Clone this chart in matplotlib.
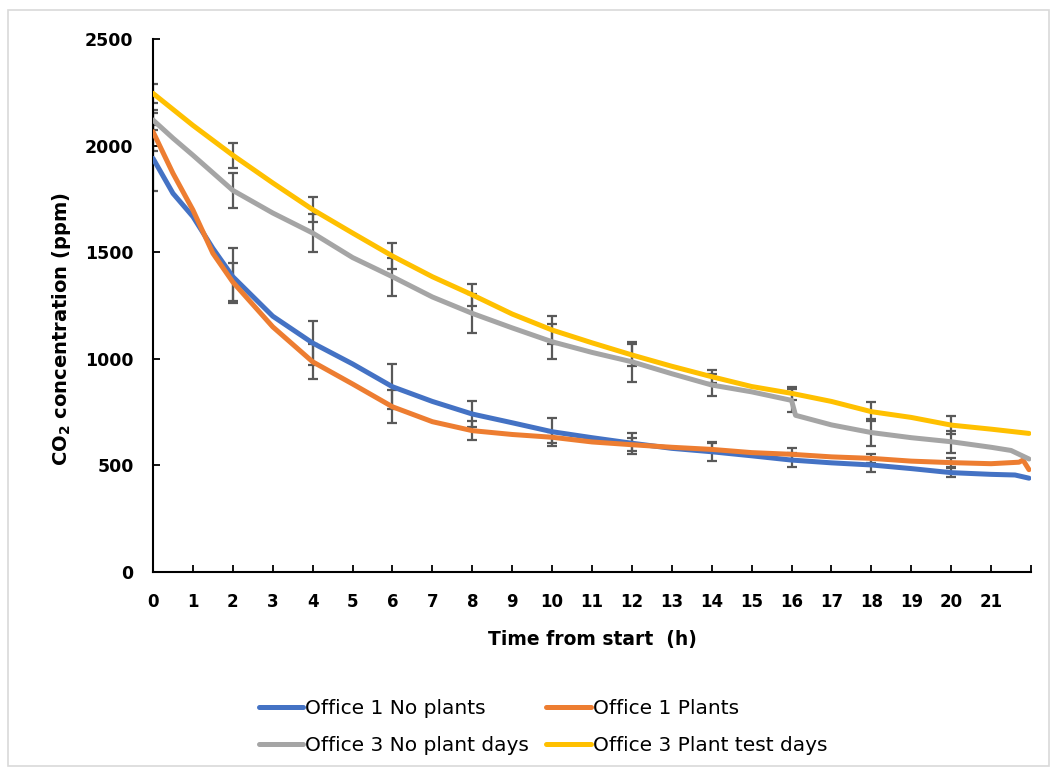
import matplotlib
matplotlib.use("Agg")
import matplotlib.pyplot as plt
from matplotlib.patches import Rectangle
from matplotlib.lines import Line2D

plt.rcParams['font.family'] = ['DejaVu Sans']
plt.rcParams['mathtext.fontset'] = 'dejavusans'

# ---------------- data ----------------
labels = ["Office 1 No plants", "Office 1 Plants",
          "Office 3 No plant days", "Office 3 Plant test days"]
colors = ["#4472C4", "#ED7D31", "#A5A5A5", "#FFC000"]

blue_t = [0, 0.5, 1, 1.5, 2, 3, 4, 5, 6, 7, 8, 9, 10, 11, 12, 13, 14, 15, 16, 17, 18, 19, 20, 21, 21.6, 21.95]
blue_v = [1940, 1776, 1667, 1518, 1385, 1200, 1074, 976, 869, 800, 741, 700, 658, 630, 604, 580, 564, 545, 525, 512, 502, 485, 466, 458, 455, 440]

orange_t = [0, 0.5, 1, 1.5, 2, 3, 4, 5, 6, 7, 8, 9, 10, 11, 12, 13, 14, 15, 16, 17, 18, 19, 20, 21, 21.7, 21.8, 21.95]
orange_v = [2065, 1870, 1698, 1495, 1360, 1150, 986, 882, 775, 705, 663, 645, 632, 610, 597, 585, 575, 560, 552, 540, 533, 520, 513, 508, 515, 525, 480]

gray_t = [0, 0.5, 1, 2, 3, 4, 5, 6, 7, 8, 9, 10, 11, 12, 13, 14, 15, 16, 16.1, 17, 18, 19, 20, 21, 21.5, 21.95]
gray_v = [2120, 2035, 1955, 1790, 1684, 1590, 1475, 1385, 1290, 1213, 1145, 1080, 1030, 986, 930, 877, 845, 805, 735, 690, 654, 630, 611, 585, 570, 530]

yellow_t = [0, 1, 2, 3, 4, 5, 6, 7, 8, 9, 10, 11, 12, 13, 14, 15, 16, 17, 18, 19, 20, 21, 21.95]
yellow_v = [2245, 2095, 1955, 1825, 1700, 1590, 1482, 1385, 1300, 1210, 1135, 1075, 1018, 965, 916, 870, 838, 800, 752, 725, 689, 670, 650]

err_t = [0, 2, 4, 6, 8, 10, 12, 14, 16, 18, 20]
blue_ev = [1940, 1390, 1074, 869, 741, 658, 604, 564, 525, 502, 466]
blue_err = [155, 128, 105, 105, 61, 66, 49, 42, 31, 32, 22]
orange_ev = [2065, 1360, 986, 775, 663, 632, 597, 588, 552, 533, 513]
orange_err = [90, 88, 82, 78, 44, 25, 30, 20, 28, 20, 20]
gray_ev = [2120, 1790, 1590, 1385, 1213, 1080, 986, 877, 805, 654, 611]
gray_err = [45, 82, 90, 89, 91, 82, 93, 52, 53, 63, 51]
yellow_ev = [2245, 1955, 1700, 1482, 1300, 1135, 1018, 916, 838, 752, 689]
yellow_err = [45, 58, 60, 60, 52, 66, 51, 31, 31, 44, 43]

x_ticks = list(range(0, 23))
x_ticklabels = [str(i) for i in range(0, 22)] + [""]
y_ticks = [0, 500, 1000, 1500, 2000, 2500]

# ---------------- figure ----------------
W, H = 1057, 773
fig = plt.figure(figsize=(W / 100, H / 100), dpi=100)
ax = fig.add_axes([153 / W, 1 - 572 / H, (1031 - 153) / W, (572 - 39) / H])

fig.patches.append(Rectangle((8 / W, 1 - 766 / H), (1049 - 8) / W, (766 - 10) / H,
                             transform=fig.transFigure, fill=False,
                             edgecolor="#d9d9d9", linewidth=1.2))

series = [(blue_t, blue_v, blue_ev, blue_err),
          (orange_t, orange_v, orange_ev, orange_err),
          (gray_t, gray_v, gray_ev, gray_err),
          (yellow_t, yellow_v, yellow_ev, yellow_err)]

for (t, v, ev, ee), c in zip(series, colors):
    ax.errorbar(err_t, ev, yerr=ee, fmt="none", ecolor="#595959",
                elinewidth=1.6, capsize=3.8, capthick=1.6, zorder=2)

for (t, v, ev, ee), c, lab in zip(series, colors, labels):
    ax.plot(t, v, color=c, linewidth=3.6, solid_capstyle="round",
            solid_joinstyle="round", zorder=3, label=lab)

ax.set_xlim(0, 22)
ax.set_ylim(0, 2500)
ax.set_xticks(x_ticks)
ax.set_xticklabels(x_ticklabels)
ax.set_yticks(y_ticks)
for s in ["top", "right"]:
    ax.spines[s].set_visible(False)
for s in ["left", "bottom"]:
    ax.spines[s].set_linewidth(1.5)
    ax.spines[s].set_color("black")
ax.tick_params(axis="both", direction="in", length=5, width=1.3)
ax.tick_params(axis="x", pad=15, labelsize=12)
ax.tick_params(axis="y", pad=14, labelsize=12.5)
for lbl in ax.get_xticklabels() + ax.get_yticklabels():
    lbl.set_fontweight("bold")

ax.set_xlabel("Time from start  (h)", fontsize=13.5, fontweight="bold")
ax.xaxis.set_label_coords(0.5, -(640 - 572) / (572 - 39))
ax.set_ylabel(r"CO$_{\mathbf{2}}$ concentration (ppm)", fontsize=14, fontweight="bold")
ax.yaxis.set_label_coords(-(153 - 62) / (1031 - 153), (572 - 329) / (572 - 39))
ax.xaxis.label.set_va("center")
ax.yaxis.label.set_va("center")

# row-wise order: blue, orange / gray, yellow (matplotlib fills columns first)
order = [0, 2, 1, 3]
handles = [Line2D([0], [0], color=colors[i], linewidth=3.6, solid_capstyle="round") for i in order]
fig.legend(handles, [labels[i] for i in order], ncol=2, loc="center",
           bbox_to_anchor=(543 / W, 1 - 727 / H), frameon=False,
           fontsize=14.5, handlelength=2.2, handletextpad=0.12,
           columnspacing=0.85, labelspacing=0.85)

fig.savefig("out.png", dpi=100)
